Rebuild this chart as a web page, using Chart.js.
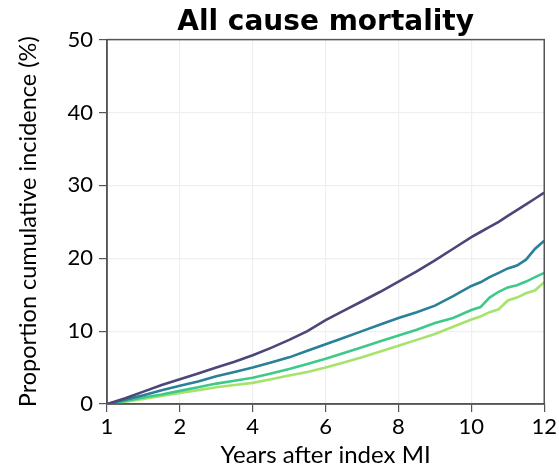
<!DOCTYPE html>
<html>
<head>
<meta charset="utf-8">
<script src="https://cdn.jsdelivr.net/npm/chart.js@4/dist/chart.umd.min.js"></script>
<style>
  html, body { margin: 0; padding: 0; background: #fff; }
</style>
</head>
<body>
<canvas id="grafico" width="559" height="471"></canvas>
<script>
// anos após o IAM índice (eixo x) e incidência cumulativa (%) por grupo
const anos = [0, 0.5, 1, 1.5, 2, 2.5, 3, 3.5, 4, 4.5, 5, 5.5, 6, 6.5, 7, 7.5, 8, 8.5, 9, 9.5, 10, 10.25, 10.5, 10.75, 11, 11.25, 11.5, 11.75, 12];
const grupo1 = [0, 0.8, 1.7, 2.6, 3.4, 4.2, 5.0, 5.8, 6.7, 7.7, 8.8, 10.0, 11.5, 12.8, 14.1, 15.4, 16.8, 18.2, 19.7, 21.3, 22.9, 23.6, 24.3, 25.0, 25.8, 26.6, 27.4, 28.2, 29.0];
const grupo2 = [0, 0.6, 1.2, 1.9, 2.5, 3.1, 3.8, 4.4, 5.0, 5.7, 6.4, 7.3, 8.2, 9.1, 10.0, 10.9, 11.8, 12.6, 13.5, 14.8, 16.2, 16.7, 17.4, 18.0, 18.6, 19.0, 19.8, 21.3, 22.4];
const grupo3 = [0, 0.4, 0.9, 1.3, 1.8, 2.3, 2.8, 3.2, 3.6, 4.2, 4.8, 5.5, 6.2, 7.0, 7.8, 8.6, 9.4, 10.2, 11.1, 11.8, 12.9, 13.3, 14.6, 15.4, 16.0, 16.3, 16.8, 17.4, 18.0];
const grupo4 = [0, 0.3, 0.7, 1.1, 1.5, 1.9, 2.3, 2.6, 2.9, 3.4, 3.9, 4.4, 5.0, 5.7, 6.4, 7.2, 8.0, 8.8, 9.6, 10.6, 11.6, 12.0, 12.6, 13.0, 14.2, 14.6, 15.2, 15.6, 16.7];

// rótulos dos ticks do eixo x (o primeiro tick fica na origem)
const ticksX = ["1", "2", "4", "6", "8", "10", "12"];
const ticksY = [0, 10, 20, 30, 40, 50];

const cores = ["#4b4778", "#2a7f99", "#3ec98b", "#a6e36c"];
const series = [grupo1, grupo2, grupo3, grupo4];

const fonte = "Lato, 'Open Sans', sans-serif";

// moldura em volta da área do gráfico
const moldura = {
  id: "moldura",
  afterDraw(chart) {
    const { ctx, chartArea: a } = chart;
    ctx.save();
    ctx.strokeStyle = "#555";
    ctx.lineWidth = 1.5;
    ctx.strokeRect(a.left, a.top, a.right - a.left, a.bottom - a.top);
    ctx.restore();
  },
};

new Chart(document.getElementById("grafico").getContext("2d"), {
  type: "line",
  data: {
    datasets: series.map((valores, i) => ({
      data: anos.map((x, j) => ({ x, y: valores[j] })),
      borderColor: cores[i],
      borderWidth: 2.6,
      pointRadius: 0,
      tension: 0,
      fill: false,
    })),
  },
  options: {
    responsive: false,
    animation: false,
    layout: { padding: { left: 0, right: 14, top: 0, bottom: 0 } },
    plugins: {
      legend: { display: false },
      tooltip: { enabled: false },
      title: {
        display: true,
        fullSize: false,
        text: "All cause mortality",
        color: "#000",
        font: { family: "'DejaVu Sans', sans-serif", size: 28, weight: "bold" },
        padding: { top: 6, bottom: 0 },
      },
    },
    scales: {
      x: {
        type: "linear",
        min: 0,
        max: 12,
        afterBuildTicks: (scale) => {
          scale.ticks = [0, 2, 4, 6, 8, 10, 12].map((v) => ({ value: v }));
        },
        afterFit: (scale) => { scale.height = 67; },
        ticks: {
          callback: (v, i) => ticksX[i],
          color: "#000",
          font: { family: fonte, size: 22 },
          padding: 2,
          maxRotation: 0,
        },
        grid: { color: "#efefef", tickColor: "#555", tickLength: 8, lineWidth: 1.2 },
        border: { color: "#555", width: 1.5 },
        title: {
          display: true,
          text: "Years after index MI",
          color: "#000",
          font: { family: fonte, size: 24 },
          padding: { top: 0, bottom: 1 },
        },
      },
      y: {
        min: 0,
        max: 50,
        afterBuildTicks: (scale) => {
          scale.ticks = ticksY.map((v) => ({ value: v }));
        },
        afterFit: (scale) => { scale.width = 107; },
        ticks: {
          color: "#000",
          font: { family: fonte, size: 22 },
          padding: 6,
        },
        grid: { color: "#efefef", tickColor: "#555", tickLength: 8, lineWidth: 1.2 },
        border: { color: "#555", width: 1.5 },
        title: {
          display: true,
          text: "Proportion cumulative incidence (%)",
          color: "#000",
          font: { family: fonte, size: 23.5 },
          padding: { top: 14, bottom: 0 },
        },
      },
    },
  },
  plugins: [moldura],
});
</script>
</body>
</html>
